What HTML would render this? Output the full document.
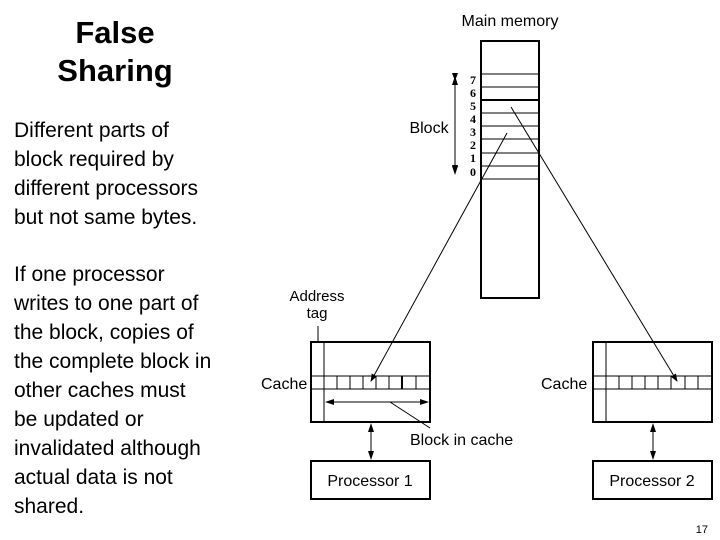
<!DOCTYPE html>
<html><head><style>
body{margin:0;width:720px;height:540px;background:#fff;font-family:"Liberation Sans",sans-serif;position:relative;overflow:hidden}
.t{position:absolute;left:14px;font-size:21px;line-height:29px;color:#000}
</style></head><body>
<div style="position:absolute;left:40px;top:14px;width:150px;text-align:center;font-size:31px;line-height:38px;font-weight:bold">False Sharing</div>
<div class="t" style="top:116px">Different parts of<br>block required by<br>different processors<br>but not same bytes.</div>
<div class="t" style="top:260px">If one processor<br>writes to one part of<br>the block, copies of<br>the complete block in<br>other caches must<br>be updated or<br>invalidated although<br>actual data is not<br>shared.</div>
<div style="position:absolute;right:12px;top:524px;font-size:11px">17</div>
<svg width="720" height="540" style="position:absolute;left:0;top:0" font-family="Liberation Sans, sans-serif">
<defs><marker id="a" markerWidth="8" markerHeight="8" refX="7" refY="4" orient="auto" markerUnits="userSpaceOnUse"><path d="M0,1 L8,4 L0,7z"/></marker></defs>
<text x="510" y="26" font-size="16" text-anchor="middle">Main memory</text>
<rect x="481" y="41" width="58" height="257" fill="none" stroke="#000" stroke-width="2"/>
<g stroke="#000" stroke-width="1">
<line x1="481" y1="74" x2="539" y2="74"/><line x1="481" y1="87" x2="539" y2="87"/>
<line x1="481" y1="100" x2="539" y2="100" stroke-width="2"/>
<line x1="481" y1="113" x2="539" y2="113"/><line x1="481" y1="126" x2="539" y2="126"/>
<line x1="481" y1="139" x2="539" y2="139"/><line x1="481" y1="153" x2="539" y2="153"/>
<line x1="481" y1="166" x2="539" y2="166"/><line x1="481" y1="179" x2="539" y2="179"/>
</g>
<g font-family="Liberation Serif, serif" font-weight="bold" font-size="12" text-anchor="middle">
<text x="473" y="84">7</text><text x="473" y="97">6</text><text x="473" y="110">5</text><text x="473" y="123">4</text><text x="473" y="136">3</text><text x="473" y="149">2</text><text x="473" y="162">1</text><text x="473" y="176">0</text>
</g>
<line x1="455" y1="80" x2="455" y2="172" stroke="#000" marker-start="url(#a)" marker-end="url(#a)" style="marker-start:url(#a)"/>
<path d="M455,76 l-3,9 h6z M455,175 l-3,-9 h6z"/>
<text x="429" y="133" font-size="16" text-anchor="middle">Block</text>
<line x1="507" y1="133" x2="371" y2="381" stroke="#000" marker-end="url(#a)"/>
<line x1="511" y1="107" x2="677" y2="381" stroke="#000" marker-end="url(#a)"/>
<text x="317" y="301" font-size="15" text-anchor="middle">Address</text>
<text x="317" y="318" font-size="15" text-anchor="middle">tag</text>
<line x1="318" y1="326" x2="318" y2="342" stroke="#000"/>
<g stroke="#000" fill="none">
<rect x="311" y="342" width="119" height="80" stroke-width="2"/>
<line x1="324" y1="342" x2="324" y2="422"/>
<rect x="311" y="376" width="119" height="13"/>
<path d="M337,376v13M350,376v13M363,376v13M376,376v13M389,376v13M416,376v13"/>
<line x1="402" y1="376" x2="402" y2="389" stroke-width="2"/>
<line x1="330" y1="402" x2="424" y2="402"/>
<line x1="390" y1="402" x2="430" y2="428"/>
<rect x="593" y="342" width="119" height="80" stroke-width="2"/>
<line x1="606" y1="342" x2="606" y2="422"/>
<rect x="593" y="376" width="119" height="13"/>
<path d="M619,376v13M632,376v13M645,376v13M658,376v13M671,376v13M685,376v13M698,376v13"/>
<rect x="311" y="461" width="119" height="38" stroke-width="2"/>
<rect x="593" y="461" width="119" height="38" stroke-width="2"/>
<line x1="371" y1="428" x2="371" y2="455"/>
<line x1="653" y1="428" x2="653" y2="455"/>
</g>
<path d="M325,402 l9,-3 v6z M429,402 l-9,-3 v6z M371,423 l-3,9 h6z M371,460 l-3,-9 h6z M653,423 l-3,9 h6z M653,460 l-3,-9 h6z"/>
<text x="261" y="389" font-size="16">Cache</text>
<text x="541" y="389" font-size="16">Cache</text>
<text x="410" y="445" font-size="16">Block in cache</text>
<text x="370" y="486" font-size="16" text-anchor="middle">Processor 1</text>
<text x="652" y="486" font-size="16" text-anchor="middle">Processor 2</text>
</svg>
</body></html>
